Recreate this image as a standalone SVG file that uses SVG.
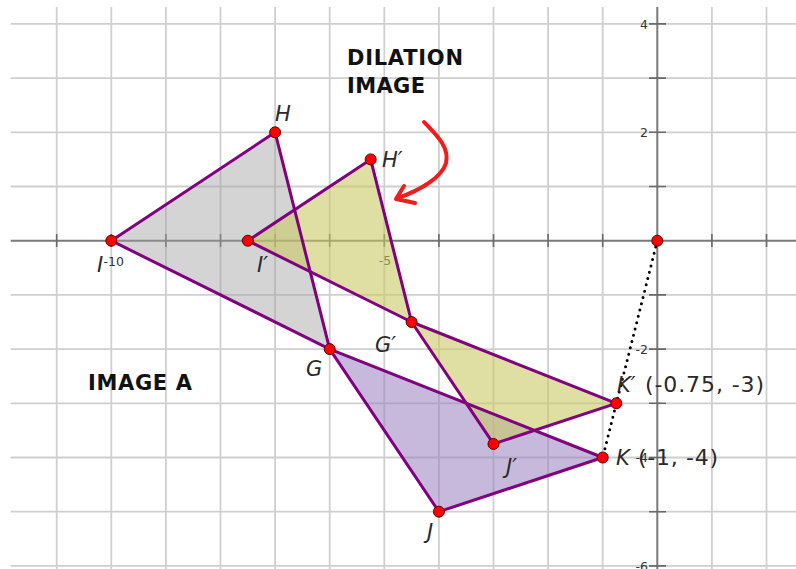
<svg xmlns="http://www.w3.org/2000/svg" width="796" height="569" viewBox="0 0 796 569">
<defs>
<style>
.grid{stroke:#cfcfcf;stroke-width:1.8;fill:none}
.axis{stroke:#7a7a7a;stroke-width:2;fill:none}
.tick{stroke:#6a6a6a;stroke-width:1.6}
.num{font-family:"DejaVu Sans",Verdana,sans-serif;font-size:12.5px;fill:#333}
.edge{stroke:#800080;stroke-width:3;stroke-linejoin:round;fill:none}
.gray{fill:#a0a0a0;fill-opacity:0.45}
.purp{fill:#9880be;fill-opacity:0.55}
.yel{fill:#c9c966;fill-opacity:0.6}
.pt{fill:#ff0000;stroke:#5a0000;stroke-width:1}
.lbl{font-family:"DejaVu Sans",Verdana,sans-serif;font-size:21px;font-style:italic;fill:#2a2a2a}
.up{font-style:normal;font-size:22px}
.head{font-family:"DejaVu Sans",Verdana,sans-serif;font-size:21px;font-weight:bold;fill:#111}
</style>
</defs>
<rect width="796" height="569" fill="#ffffff"/>
<g id="grid">
<path class="grid" d="M56.7 7V569M111.3 7V569M165.9 7V569M220.5 7V569M275.1 7V569M329.7 7V569M384.3 7V569M438.9 7V569M493.5 7V569M548.1 7V569M602.7 7V569M711.9 7V569M766.5 7V569"/>
<path class="grid" d="M10.7 23.9H796M10.7 78.1H796M10.7 132.3H796M10.7 186.5H796M10.7 294.9H796M10.7 349.1H796M10.7 403.3H796M10.7 457.5H796M10.7 511.7H796M10.7 565.9H796"/>
</g>
<g id="axes">
<path class="axis" d="M10.7 240.7H796M657.3 7V569"/>
<path class="tick" d="M56.7 234V247M111.3 234V247M165.9 234V247M220.5 234V247M275.1 234V247M329.7 234V247M384.3 234V247M438.9 234V247M493.5 234V247M548.1 234V247M602.7 234V247M711.9 234V247M766.5 234V247"/>
<path class="tick" d="M649 23.9H666M649 78.1H666M649 132.3H666M649 186.5H666M649 294.9H666M649 349.1H666M649 403.3H666M649 457.5H666M649 511.7H666M649 565.9H666"/>
<text class="num" x="124" y="266" text-anchor="end">-10</text>
<text class="num" x="385" y="265" text-anchor="middle">-5</text>
<text class="num" x="648" y="28.5" text-anchor="end">4</text>
<text class="num" x="648" y="137" text-anchor="end">2</text>
<text class="num" x="648" y="354" text-anchor="end">-2</text>
<text class="num" x="648" y="462" text-anchor="end">-4</text>
<text class="num" x="648" y="570.5" text-anchor="end">-6</text>
</g>
<g id="figures">
<polygon id="tri-IHG" class="gray" points="111.3,240.7 275.1,132.3 329.7,349.1"/>
<polygon id="tri-GJK" class="purp" points="329.7,349.1 438.9,511.7 602.7,457.5"/>
<polygon id="tri-IHG-dil" class="yel" points="247.8,240.7 370.65,159.4 411.6,322"/>
<polygon id="tri-GJK-dil" class="yel" points="411.6,322 493.5,443.95 616.35,403.3"/>
</g>
<g id="connectors">
<polygon class="edge" points="111.3,240.7 275.1,132.3 329.7,349.1"/>
<polygon class="edge" points="329.7,349.1 438.9,511.7 602.7,457.5"/>
<polygon class="edge" points="247.8,240.7 370.65,159.4 411.6,322"/>
<polygon class="edge" points="411.6,322 493.5,443.95 616.35,403.3"/>
<line x1="657.3" y1="240.7" x2="602.7" y2="457.5" stroke="#000" stroke-width="3" stroke-linecap="round" stroke-dasharray="0 6.5"/>
</g>
<g id="node-O"><circle class="pt" cx="657.3" cy="240.7" r="5.5"/></g>
<g id="node-I"><circle class="pt" cx="111.3" cy="240.7" r="5.5"/><text class="lbl" x="97" y="272">I</text></g>
<g id="node-H"><circle class="pt" cx="275.1" cy="132.3" r="5.5"/><text class="lbl" x="275" y="121">H</text></g>
<g id="node-G"><circle class="pt" cx="329.7" cy="349.1" r="5.5"/><text class="lbl" x="306" y="376">G</text></g>
<g id="node-J"><circle class="pt" cx="438.9" cy="511.7" r="5.5"/><text class="lbl" x="427" y="539">J</text></g>
<g id="node-K"><circle class="pt" cx="602.7" cy="457.5" r="5.5"/><text class="lbl" x="616" y="465">K<tspan class="up" x="638" textLength="80" lengthAdjust="spacing">(-1, -4)</tspan></text></g>
<g id="node-Ip"><circle class="pt" cx="247.8" cy="240.7" r="5.5"/><text class="lbl" x="257" y="272">I′</text></g>
<g id="node-Hp"><circle class="pt" cx="370.65" cy="159.4" r="5.5"/><text class="lbl" x="382" y="167">H′</text></g>
<g id="node-Gp"><circle class="pt" cx="411.6" cy="322" r="5.5"/><text class="lbl" x="375" y="352">G′</text></g>
<g id="node-Jp"><circle class="pt" cx="493.5" cy="443.95" r="5.5"/><text class="lbl" x="506" y="474">J′</text></g>
<g id="node-Kp"><circle class="pt" cx="616.35" cy="403.3" r="5.5"/><text class="lbl" x="617" y="392">K′<tspan class="up" x="645" textLength="119" lengthAdjust="spacing">(-0.75, -3)</tspan></text></g>
<g id="titles">
<text class="head" x="347" y="65" textLength="116" lengthAdjust="spacing">DILATION</text>
<text class="head" x="347" y="93" textLength="78" lengthAdjust="spacing">IMAGE</text>
<text class="head" x="88" y="390" textLength="104" lengthAdjust="spacing">IMAGE A</text>
</g>
<g id="arrow" fill="none" stroke="#f21c1c" stroke-width="4" stroke-linecap="round" stroke-linejoin="round">
<path d="M424 122C434 133 450 146 446 163C442 178 418 191 398 198"/>
<path d="M404 186L396 199L415 203"/>
</g>
</svg>
